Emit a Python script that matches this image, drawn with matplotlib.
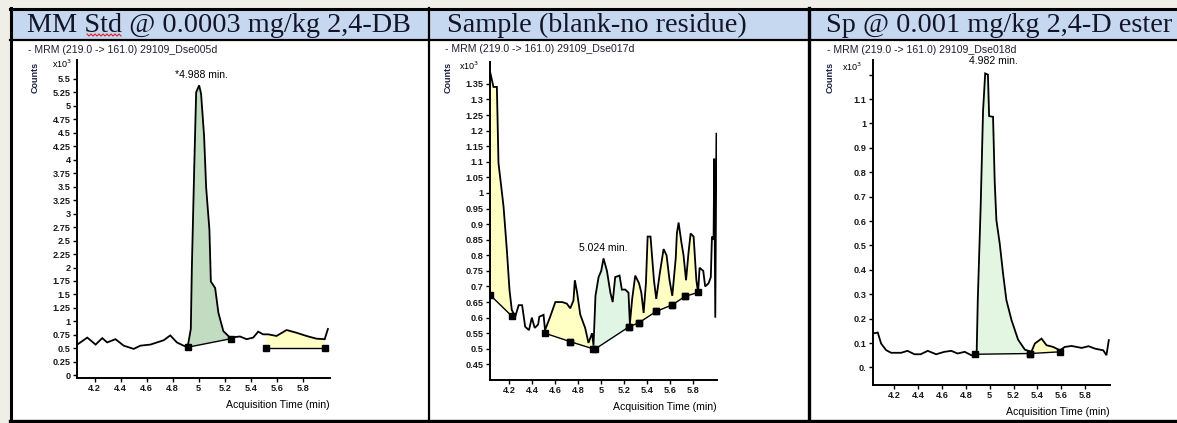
import numpy as np
import matplotlib
matplotlib.use("Agg")
import matplotlib.pyplot as plt
from matplotlib.patches import Rectangle
from matplotlib.lines import Line2D

# ---------------- data ----------------
panel_titles = ["MM Std @ 0.0003 mg/kg 2,4-DB",
                "Sample (blank-no residue)",
                "Sp @ 0.001 mg/kg 2,4-D ester"]
trace_titles = ["- MRM (219.0 -> 161.0) 29109_Dse005d",
                "- MRM (219.0 -> 161.0) 29109_Dse017d",
                "- MRM (219.0 -> 161.0) 29109_Dse018d"]
peak_labels = ["*4.988 min.", "5.024 min.", "4.982 min."]
x_ticks = [4.2, 4.4, 4.6, 4.8, 5.0, 5.2, 5.4, 5.6, 5.8]

std_time = [4.067, 4.144, 4.208, 4.259, 4.297, 4.361, 4.424, 4.501, 4.552, 4.629,
            4.680, 4.731, 4.782, 4.833, 4.884, 4.915, 4.940, 4.948, 4.966, 4.981,
            5.004, 5.019, 5.042, 5.058, 5.083, 5.094, 5.127, 5.152, 5.190, 5.241,
            5.318, 5.369, 5.420, 5.458, 5.496, 5.535, 5.599, 5.676, 5.752, 5.829,
            5.905, 5.969, 5.994]
std_counts = [0.57, 0.70, 0.57, 0.69, 0.61, 0.67, 0.55, 0.49, 0.55, 0.57,
              0.61, 0.65, 0.74, 0.61, 0.55, 0.52, 0.86, 2.00, 3.83, 5.25,
              5.38, 5.22, 4.44, 3.48, 2.70, 1.74, 1.62, 1.16, 0.82, 0.70,
              0.72, 0.67, 0.70, 0.81, 0.76, 0.76, 0.73, 0.84, 0.79, 0.73,
              0.68, 0.67, 0.86]
std_regions = [(4.915, 0.52, 5.25, 0.68), (5.52, 0.51, 5.97, 0.51)]
std_region_is_peak = [True, False]
std_peak = (5.004, 5.38)
std_yticks = [0, 0.25, 0.5, 0.75, 1, 1.25, 1.5, 1.75, 2, 2.25, 2.5, 2.75, 3, 3.25,
              3.5, 3.75, 4, 4.25, 4.5, 4.75, 5, 5.25, 5.5]

blank_time = [4.03, 4.06, 4.09, 4.104, 4.148, 4.177, 4.20, 4.22, 4.25, 4.28, 4.31,
              4.337, 4.37, 4.395, 4.42, 4.45, 4.46, 4.497, 4.51, 4.555, 4.60, 4.66,
              4.70, 4.73, 4.758, 4.77, 4.79, 4.817, 4.86, 4.889, 4.92, 4.933, 4.95,
              4.977, 5.0, 5.02, 5.05, 5.08, 5.10, 5.122, 5.16, 5.18, 5.21, 5.238,
              5.25, 5.27, 5.297, 5.33, 5.35, 5.37, 5.39, 5.405, 5.43, 5.46, 5.48,
              5.51, 5.544, 5.57, 5.596, 5.62, 5.65, 5.66, 5.675, 5.70, 5.718, 5.74,
              5.762, 5.78, 5.806, 5.83, 5.845, 5.858, 5.89, 5.907, 5.936, 5.956,
              5.966, 5.98, 5.986, 5.995, 6.005]
blank_counts = [1.39, 1.34, 1.34, 1.096, 0.957, 0.817, 0.689, 0.625, 0.603, 0.64, 0.64,
                0.571, 0.56, 0.60, 0.567, 0.578, 0.603, 0.609, 0.56, 0.603, 0.65, 0.65,
                0.645, 0.63, 0.655, 0.72, 0.68, 0.61, 0.567, 0.519, 0.55, 0.51, 0.67,
                0.73, 0.75, 0.79, 0.75, 0.68, 0.65, 0.73, 0.735, 0.69, 0.69, 0.68,
                0.58, 0.66, 0.735, 0.71, 0.68, 0.615, 0.71, 0.86, 0.86, 0.72, 0.66,
                0.74, 0.82, 0.80, 0.72, 0.67, 0.79, 0.87, 0.905, 0.84, 0.80, 0.72,
                0.81, 0.87, 0.86, 0.72, 0.68, 0.76, 0.75, 0.70, 0.71, 0.73,
                0.86, 0.85, 1.11, 0.60, 1.19]
blank_regions = [(4.03, 0.673, 4.22, 0.605), (4.51, 0.55, 4.73, 0.523),
                 (4.73, 0.523, 4.93, 0.50), (4.95, 0.50, 5.24, 0.57),
                 (5.24, 0.57, 5.33, 0.584), (5.33, 0.584, 5.48, 0.62),
                 (5.48, 0.62, 5.62, 0.641), (5.62, 0.641, 5.73, 0.668),
                 (5.73, 0.668, 5.845, 0.681)]
blank_region_is_peak = [False, False, False, True, False, False, False, False, False]
blank_peak = (5.02, 0.79)
blank_yticks = [0.45, 0.5, 0.55, 0.6, 0.65, 0.7, 0.75, 0.8, 0.85, 0.9, 0.95, 1.0,
                1.05, 1.1, 1.15, 1.2, 1.25, 1.3, 1.35]

spike_time = [4.017, 4.06, 4.088, 4.13, 4.172, 4.256, 4.31, 4.368, 4.42, 4.48, 4.55,
              4.62, 4.677, 4.73, 4.79, 4.846, 4.89, 4.90, 4.924, 4.944, 4.962, 4.985,
              4.995, 5.028, 5.042, 5.056, 5.084, 5.112, 5.14, 5.183, 5.238, 5.295,
              5.35, 5.379, 5.435, 5.477, 5.533, 5.59, 5.63, 5.688, 5.772, 5.83,
              5.884, 5.954, 5.98, 6.0]
spike_counts = [0.139, 0.143, 0.098, 0.071, 0.060, 0.060, 0.068, 0.054, 0.054, 0.068, 0.054,
                0.064, 0.068, 0.057, 0.064, 0.050, 0.050, 0.28, 0.66, 1.05, 1.205, 1.20,
                1.03, 1.027, 0.76, 0.604, 0.508, 0.385, 0.276, 0.194, 0.114, 0.073,
                0.064, 0.098, 0.118, 0.091, 0.084, 0.070, 0.084, 0.088, 0.080, 0.087,
                0.077, 0.070, 0.050, 0.112]
spike_regions = [(4.877, 0.054, 5.34, 0.057), (5.34, 0.057, 5.59, 0.064)]
spike_region_is_peak = [True, False]
spike_peak = (4.962, 1.205)
spike_yticks = [0, 0.1, 0.2, 0.3, 0.4, 0.5, 0.6, 0.7, 0.8, 0.9, 1.0, 1.1, 1.2]
spike_yticklabels = ["0.", "0.1", "0.2", "0.3", "0.4", "0.5", "0.6", "0.7", "0.8",
                     "0.9", "1", "1.1", ""]

# ---------------- layout helpers ----------------
W, H = 1177, 423
fig = plt.figure(figsize=(W / 100, H / 100), dpi=100)
fig.patch.set_facecolor("#efefe8")


def fx(x):
    return x / W


def fy(y):
    return 1 - y / H


def rect(x0, y0, x1, y1, fc, z=0):
    fig.add_artist(Rectangle((fx(x0), fy(y1)), (x1 - x0) / W, (y1 - y0) / H,
                             transform=fig.transFigure, facecolor=fc,
                             edgecolor="none", linewidth=0, zorder=z))


def vline(x, y0, y1, lw):
    fig.add_artist(Line2D([fx(x), fx(x)], [fy(y0), fy(y1)], color="black",
                          linewidth=lw, transform=fig.transFigure, zorder=5))


def hline(y, x0, x1, lw):
    fig.add_artist(Line2D([fx(x0), fx(x1)], [fy(y), fy(y)], color="black",
                          linewidth=lw, transform=fig.transFigure, zorder=5))


# frame
rect(11, 9, 1180, 421, "white", z=0)
rect(11, 9, 1180, 40, "#c6d8f0", z=0.5)
hline(9.5, 10, 1177, 2.2)
hline(40, 10, 1177, 1.6)
hline(420.5, 10, 1177, 2.4)
vline(11, 8, 422, 2.2)
vline(428.5, 8, 422, 1.6)
vline(809, 8, 422, 2.4)

serif = ["Liberation Serif", "DejaVu Serif"]
sans = ["Liberation Sans", "DejaVu Sans"]
header_x = [27, 447, 826]
for hx, t in zip(header_x, panel_titles):
    fig.text(fx(hx), fy(32.5), t, family=serif, fontsize=20.3, color="#141428",
             ha="left", va="baseline", zorder=6)

# spell-check squiggle under "Std" (decoration of the original screenshot)
sq_x = np.linspace(87, 121, 18)
sq_y = np.where(np.arange(18) % 2 == 0, 34.0, 36.0)
fig.add_artist(Line2D(fx(sq_x), fy(sq_y), color="#e02020", linewidth=0.8,
                      transform=fig.transFigure, zorder=6))

panels = [
    dict(t=std_time, c=std_counts, regs=std_regions, pk=std_region_is_peak,
         peak=std_peak, yt=std_yticks, ytl=None, box=(77, 60, 330, 378),
         ylim=(-0.05, 5.85), xlim=(4.065, 6.01), green="#c2dcc2",
         title_xy=(28, 50), counts_x=35, x10=(52, 64), lab_off=(2, 4)),
    dict(t=blank_time, c=blank_counts, regs=blank_regions, pk=blank_region_is_peak,
         peak=blank_peak, yt=blank_yticks, ytl=None, box=(490, 62, 717, 380),
         ylim=(0.40, 1.42), xlim=(4.03, 6.01), green="#e0f5e4",
         title_xy=(445, 49), counts_x=448, x10=(459, 66), lab_off=(0, 4)),
    dict(t=spike_time, c=spike_counts, regs=spike_regions, pk=spike_region_is_peak,
         peak=spike_peak, yt=spike_yticks, ytl=spike_yticklabels,
         box=(873, 60, 1110, 385), ylim=(-0.072, 1.26), xlim=(4.02, 6.01),
         green="#e2f6e2", title_xy=(827, 50), counts_x=830, x10=(842, 67),
         lab_off=(6, 5)),
]

for i, p in enumerate(panels):
    x0, y0, x1, y1 = p["box"]
    ax = fig.add_axes([fx(x0), fy(y1), (x1 - x0) / W, (y1 - y0) / H])
    ax.set_facecolor("none")
    t = np.array(p["t"])
    c = np.array(p["c"])
    # fills
    for (a, ba, b, bb), is_pk in zip(p["regs"], p["pk"]):
        g = np.linspace(a, b, 300)
        tr = np.interp(g, t, c)
        base = ba + (bb - ba) * (g - a) / (b - a)
        ax.fill_between(g, base, tr, where=tr >= base, interpolate=True,
                        facecolor=p["green"] if is_pk else "#ffffc4",
                        edgecolor="none", zorder=1)
        ax.plot([a, b], [ba, bb], color="black", lw=1.0, zorder=2)
        ax.plot([a, b], [ba, bb], ls="none", marker="s", ms=4.2,
                color="black", zorder=4)
    ax.plot(t, c, color="black", lw=1.3, zorder=3, solid_joinstyle="miter")
    ax.set_xlim(*p["xlim"])
    ax.set_ylim(*p["ylim"])
    ax.set_xticks(x_ticks)
    ax.set_xticklabels(["%g" % v for v in x_ticks])
    ax.set_yticks(p["yt"])
    if p["ytl"] is None:
        ax.set_yticklabels(["%g" % v for v in p["yt"]])
    else:
        ax.set_yticklabels(p["ytl"])
    for s in ("top", "right"):
        ax.spines[s].set_visible(False)
    for s in ("left", "bottom"):
        ax.spines[s].set_linewidth(1.4)
    ax.tick_params(axis="both", labelsize=6.6, length=3, width=1.0, pad=1.5,
                   direction="out")
    for lab in ax.get_xticklabels() + ax.get_yticklabels():
        lab.set_family(sans)
        lab.set_fontweight("bold")
        lab.set_color("#1a1a1a")
    ax.set_xlabel("Acquisition Time (min)", loc="right", fontsize=7.6,
                  family=sans, labelpad=5)
    ax.annotate(peak_labels[i], xy=p["peak"], xytext=p["lab_off"],
                textcoords="offset points", ha="center", va="bottom",
                fontsize=7.5, family=sans)
    tx, ty = p["title_xy"]
    fig.text(fx(tx), fy(ty), trace_titles[i], fontsize=7.6, family=sans,
             ha="left", va="center", color="#202030")
    fig.text(fx(p["counts_x"]), fy(77), "Counts", fontsize=6.5, family=sans,
             rotation=90, ha="center", va="center", color="#202040",
             fontweight="bold")
    fig.text(fx(p["x10"][0]), fy(p["x10"][1]), r"x10$^{3}$", fontsize=6.5,
             family=sans, ha="left", va="center")

fig.savefig("out.png", dpi=100, facecolor=fig.get_facecolor())
